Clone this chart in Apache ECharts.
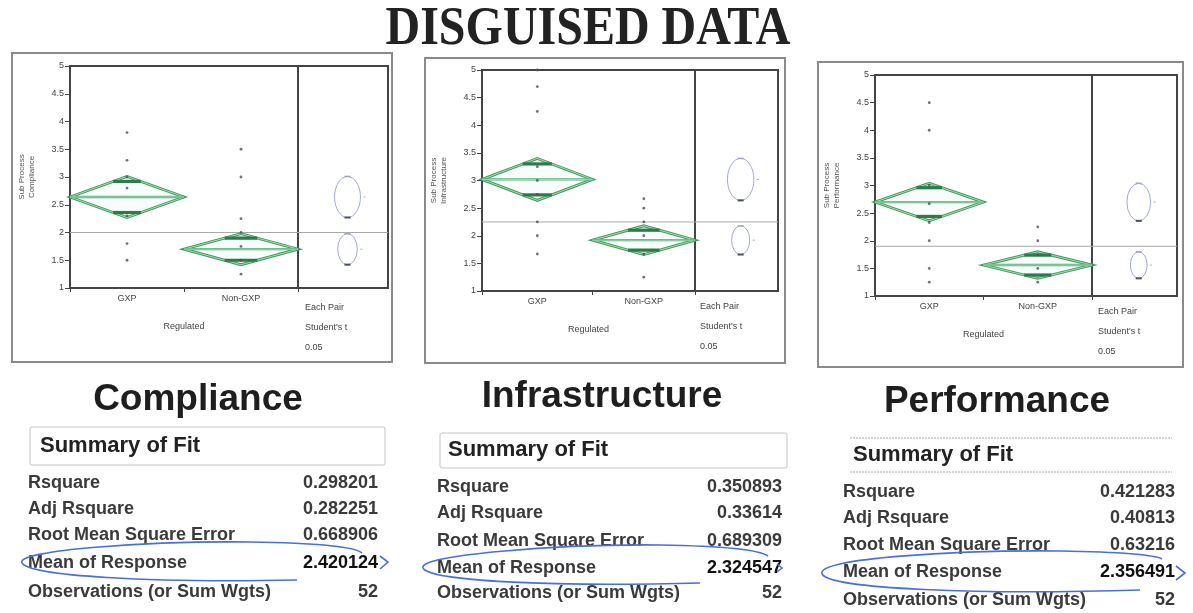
<!DOCTYPE html>
<html>
<head>
<meta charset="utf-8">
<title>Disguised data</title>
<script src="https://cdn.jsdelivr.net/npm/echarts@6.0.0/dist/echarts.min.js"></script>
<style>
html, body { margin: 0; padding: 0; background: #fff; }
#chart { width: 1193px; height: 613px; }
</style>
</head>
<body>
<div id="chart"></div>
<script>
// values
const panelNames = ['Compliance', 'Infrastructure', 'Performance'];
const yAxisNames = ['Sub Process\nCompliance', 'Sub Process\nInfrastructure', 'Sub Process\nPerformance'];
const groupNames = ['GXP', 'Non-GXP'];
const groupCounts = [[26, 26], [27, 25], [26, 26]];
const groupMeans = [[2.64, 1.70], [3.02, 1.92], [2.70, 1.56]];
const ciHalfWidths = [[0.37, 0.28], [0.38, 0.26], [0.34, 0.24]];
const overlapHalfWidths = [[0.28, 0.20], [0.28, 0.18], [0.26, 0.18]];
const grandMeans = [2.0, 2.25, 1.9];
const gxpPoints = [
    [3.8, 3.3, 3.0, 2.8, 2.3, 1.8, 1.5],
    [5.0, 4.7, 4.25, 3.25, 3.0, 2.75, 2.25, 2.0, 1.67],
    [4.5, 4.0, 3.0, 2.67, 2.33, 2.0, 1.5, 1.25]
];
const nonGxpPoints = [
    [3.5, 3.0, 2.25, 2.0, 1.75, 1.5, 1.25],
    [2.67, 2.5, 2.25, 2.0, 1.67, 1.25],
    [2.25, 2.0, 1.75, 1.5, 1.25]
];
const fitLabels = ['Rsquare', 'Adj Rsquare', 'Root Mean Square Error', 'Mean of Response', 'Observations (or Sum Wgts)'];
const fitValues = [
    ['0.298201', '0.282251', '0.668906', '2.420124', '52'],
    ['0.350893', '0.33614', '0.689309', '2.324547', '52'],
    ['0.421283', '0.40813', '0.63216', '2.356491', '52']
];
const compareLabel = 'Each Pair\nStudent\'s t\n0.05';
const yMin = 1, yMax = 5, yStep = 0.5;

// layout (pixels)
const FONT = '"Liberation Sans", Arial, sans-serif';
const CMP_X = 0.55;
const CIRCLE_ASPECT = 0.63;
const layout = [
    { grid: [70, 66, 228, 222], cmp: [298, 66, 90, 222], frame: [12, 53, 380, 309], title: [198, 400],
      box: [30, 427, 355, 38], head: [40, 446], rows: [483, 509, 535, 563, 592], left: 28, right: 378, pair: [305, 298],
      ring: [[297, 580, 150, 583, 30, 576, 22, 563], [22, 563, 15, 550, 150, 541, 250, 542], [250, 542, 320, 543, 355, 547, 362, 553]],
      arrow: [[380, 556], [388, 562], [380, 569]] },
    { grid: [482, 70, 213, 221], cmp: [695, 70, 83, 221], frame: [425, 58, 360, 305], title: [602, 397],
      box: [440, 433, 347, 35], head: [448, 450], rows: [487, 513, 541, 568, 593], left: 437, right: 782, pair: [700, 297],
      ring: [[700, 583, 550, 587, 430, 581, 423, 568], [423, 568, 417, 555, 560, 544, 660, 545], [660, 545, 720, 546, 760, 550, 768, 556]],
      arrow: [[777, 564], [782, 568], [777, 572]] },
    { grid: [875, 75, 217, 221], cmp: [1092, 75, 85, 221], frame: [818, 62, 365, 305], title: [997, 402],
      box: [850, 438, 322, 34], head: [853, 455], rows: [492, 518, 545, 572, 600], left: 843, right: 1175, pair: [1098, 302],
      ring: [[1140, 590, 980, 595, 830, 589, 822, 574], [822, 574, 815, 558, 960, 550, 1060, 551], [1060, 551, 1120, 552, 1155, 555, 1162, 559]],
      arrow: [[1176, 566], [1185, 573], [1176, 580]] }
];

function txt(x, y, text, size, weight, color, align, valign, extra) {
    return Object.assign({
        type: 'text', x, y,
        style: {
            text, fontSize: size, fontWeight: weight, fontFamily: FONT, fill: color,
            align, textAlign: align, verticalAlign: valign, textVerticalAlign: valign
        }
    }, extra || {});
}

function renderDiamond(params, api) {
    const s = api.value(0), e = api.value(1), m = api.value(2), ci = api.value(3), oh = api.value(4), g = api.value(5);
    const mid = (s + e) / 2;
    const L = api.coord([s, m]), R = api.coord([e, m]);
    const T = api.coord([mid, m + ci]), B = api.coord([mid, m - ci]);
    const f = oh / ci * (e - s) / 2;
    const u1 = api.coord([s + f, m + oh]), u2 = api.coord([e - f, m + oh]);
    const d1 = api.coord([s + f, m - oh]), d2 = api.coord([e - f, m - oh]);
    const base = api.coord([mid, yMin]);
    const seg = (a, b, color, w) => ({ type: 'line', shape: { x1: a[0], y1: a[1], x2: b[0], y2: b[1] }, style: { stroke: color, lineWidth: w } });
    return {
        type: 'group',
        children: [
            { type: 'polygon', shape: { points: [L, T, R, B] }, style: { fill: 'rgba(120,200,150,0.05)', stroke: '#3f9a62', lineWidth: 2.8 } },
            { type: 'polygon', shape: { points: [L, T, R, B] }, style: { fill: 'none', stroke: '#c4e8b8', lineWidth: 0.8 } },
            seg(L, R, '#4fae78', 2.4),
            seg(L, R, '#d0eccc', 0.7),
            seg(u1, u2, '#2d7a4c', 3.2),
            seg(d1, d2, '#2d7a4c', 3.2),
            txt(base[0], base[1] + 11, groupNames[g], 9, 'normal', '#444', 'center', 'middle')
        ]
    };
}

function renderCircle(params, api) {
    const c = api.coord([api.value(0), api.value(1)]);
    const ry = api.size([0, api.value(2)])[1];
    const rx = ry * CIRCLE_ASPECT;
    return {
        type: 'group',
        children: [
            { type: 'circle', x: c[0], y: c[1], scaleX: CIRCLE_ASPECT, shape: { cx: 0, cy: 0, r: ry },
              style: { fill: 'none', stroke: '#8d95c6', lineWidth: 1, strokeNoScale: true } },
            { type: 'line', shape: { x1: c[0] - 3, y1: c[1] + ry, x2: c[0] + 3, y2: c[1] + ry }, style: { stroke: '#4a4f66', lineWidth: 2 } },
            { type: 'line', shape: { x1: c[0] - 3, y1: c[1] - ry, x2: c[0] + 3, y2: c[1] - ry }, style: { stroke: '#a0a6c4', lineWidth: 1.5 } },
            { type: 'line', shape: { x1: c[0] + rx + 3, y1: c[1], x2: c[0] + rx + 5, y2: c[1] }, style: { stroke: '#a0a6c8', lineWidth: 1 } }
        ]
    };
}

const grids = [], xAxes = [], yAxes = [], series = [], elements = [];

const heading = txt(588, 30, 'DISGUISED DATA', 48, 'bold', '#222', 'center', 'middle', { scaleY: 1.14, originX: 0, originY: 0 });
heading.style.fontFamily = '"Liberation Serif", "Times New Roman", serif';
elements.push(heading);

panelNames.forEach((name, i) => {
    const lay = layout[i];
    const n = groupCounts[i];
    const total = n[0] + n[1];
    const gi = grids.length;
    grids.push({ left: lay.grid[0], top: lay.grid[1], width: lay.grid[2], height: lay.grid[3], show: true, borderColor: '#444', borderWidth: 2 });
    grids.push({ left: lay.cmp[0], top: lay.cmp[1], width: lay.cmp[2], height: lay.cmp[3], show: true, borderColor: '#444', borderWidth: 2 });

    xAxes.push({
        gridIndex: gi, type: 'value', min: 0, max: total, interval: n[0],
        axisLine: { lineStyle: { color: '#444', width: 2 } },
        axisTick: { show: true, length: 4, lineStyle: { color: '#444' } },
        axisLabel: { show: false }, splitLine: { show: false },
        name: 'Regulated', nameLocation: 'middle', nameGap: 34,
        nameTextStyle: { fontSize: 9, color: '#444', fontFamily: FONT }
    });
    xAxes.push({ gridIndex: gi + 1, type: 'value', min: 0, max: 1, show: false });
    yAxes.push({
        gridIndex: gi, type: 'value', min: yMin, max: yMax, interval: yStep,
        axisLine: { show: true, lineStyle: { color: '#444', width: 2 } },
        axisTick: { show: true, length: 5, lineStyle: { color: '#444' } },
        axisLabel: { fontSize: 9, color: '#444', margin: 6, fontFamily: FONT },
        splitLine: { show: false },
        name: yAxisNames[i], nameLocation: 'middle', nameGap: 33,
        nameTextStyle: { fontSize: 8, color: '#555', lineHeight: 10, fontFamily: FONT }
    });
    yAxes.push({ gridIndex: gi + 1, type: 'value', min: yMin, max: yMax, show: false });

    const spans = [[0, n[0]], [n[0], total]];
    series.push({
        type: 'line', xAxisIndex: gi, yAxisIndex: gi, silent: true, showSymbol: false, z: 1,
        lineStyle: { color: '#a8a8a8', width: 1 },
        data: [[0, grandMeans[i]], [total, grandMeans[i]]]
    });
    series.push({
        type: 'line', xAxisIndex: gi + 1, yAxisIndex: gi + 1, silent: true, showSymbol: false, z: 1,
        lineStyle: { color: '#a8a8a8', width: 1 },
        data: [[0, grandMeans[i]], [1, grandMeans[i]]]
    });
    series.push({
        type: 'custom', xAxisIndex: gi, yAxisIndex: gi, silent: true, z: 2,
        renderItem: renderDiamond,
        data: spans.map((s, g) => [s[0], s[1], groupMeans[i][g], ciHalfWidths[i][g], overlapHalfWidths[i][g], g])
    });
    series.push({
        type: 'scatter', xAxisIndex: gi, yAxisIndex: gi, silent: true, z: 3,
        symbolSize: 2.8, itemStyle: { color: '#4a4d5e' },
        data: gxpPoints[i].map(v => [n[0] / 2, v]).concat(nonGxpPoints[i].map(v => [n[0] + n[1] / 2, v]))
    });
    series.push({
        type: 'custom', xAxisIndex: gi + 1, yAxisIndex: gi + 1, silent: true, z: 2,
        renderItem: renderCircle,
        data: groupMeans[i].map((m, g) => [CMP_X, m, ciHalfWidths[i][g]])
    });

    // panel frame and texts
    elements.push({ type: 'rect', shape: { x: lay.frame[0], y: lay.frame[1], width: lay.frame[2], height: lay.frame[3] },
        style: { fill: 'none', stroke: '#8a8a8a', lineWidth: 2 } });
    const pair = txt(lay.pair[0], lay.pair[1], compareLabel, 9, 'normal', '#444', 'left', 'top');
    pair.style.lineHeight = 20;
    elements.push(pair);
    elements.push(txt(lay.title[0], lay.title[1], name, 37, 'bold', '#1e1e1e', 'center', 'middle'));
    if (i < 2) {
        elements.push({ type: 'rect', shape: { x: lay.box[0], y: lay.box[1], width: lay.box[2], height: lay.box[3], r: 2 },
            style: { fill: 'none', stroke: '#c4c4c8', lineWidth: 1 } });
    } else {
        [lay.box[1], lay.box[1] + lay.box[3]].forEach(y => elements.push({ type: 'line',
            shape: { x1: lay.box[0], y1: y, x2: lay.box[0] + lay.box[2], y2: y },
            style: { stroke: '#a8a8b0', lineWidth: 1, lineDash: [2, 1] } }));
    }
    elements.push(txt(lay.head[0], lay.head[1], 'Summary of Fit', 22, 'bold', '#222', 'left', 'middle'));
    fitLabels.forEach((lab, r) => {
        elements.push(txt(lay.left, lay.rows[r], lab, 18, 'bold', '#3a3a3a', 'left', 'middle'));
        elements.push(txt(lay.right, lay.rows[r], fitValues[i][r], 18, 'bold', r === 3 ? '#111' : '#3a3a3a', 'right', 'middle'));
    });
    lay.ring.forEach(c => elements.push({ type: 'bezierCurve',
        shape: { x1: c[0], y1: c[1], cpx1: c[2], cpy1: c[3], cpx2: c[4], cpy2: c[5], x2: c[6], y2: c[7] },
        style: { fill: 'none', stroke: '#4a6fd8', lineWidth: 1.6 } }));
    elements.push({ type: 'polyline', shape: { points: lay.arrow }, style: { fill: 'none', stroke: '#4a6fd8', lineWidth: 1.6 } });
});

const chart = echarts.init(document.getElementById('chart'));
chart.setOption({
    backgroundColor: '#fff',
    animation: false,
    grid: grids,
    xAxis: xAxes,
    yAxis: yAxes,
    series: series,
    graphic: { elements: elements }
});
</script>
</body>
</html>
